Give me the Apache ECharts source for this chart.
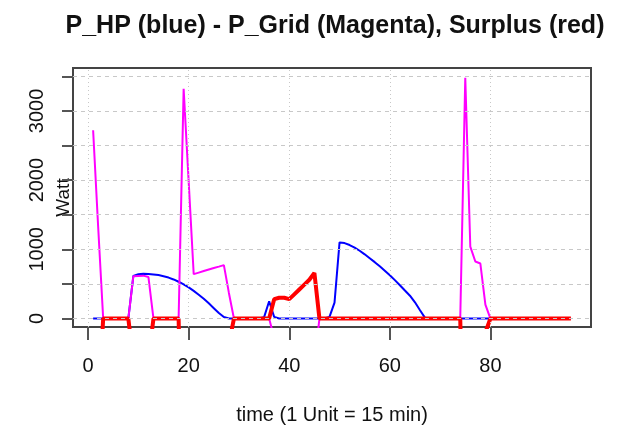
<!DOCTYPE html>
<html><head><meta charset="utf-8">
<script src="https://cdn.jsdelivr.net/npm/echarts@6/dist/echarts.min.js"></script>
<style>html,body{margin:0;padding:0;background:#fff}#c{width:626px;height:428px}</style>
</head><body><div id="c"></div>
<script>
// time index 1..96 (1 unit = 15 min)
const pHP = [
  0,0,0,0,0,0,0,0,
  615,640,648,645,638,628,612,592,565,532,494,450,400,345,285,220,150,80,22,0,
  0,0,0,0,0,0,
  20,250,25,0,
  0,0,0,0,0,0,0,0,0,
  25,230,1100,1090,1062,1025,980,928,872,815,755,692,625,555,482,405,330,235,120,10,0,
  0,0,0,0,0,0,0,0,0,0,0,0,0,0,0,0,0,0,0,0,0,0,0,0,0,0,0,0
];
const pGrid = [
  2720,1330,0,0,0,0,0,0,
  612,616,620,600,0,
  0,0,0,0,0,
  3320,1980,642,664,686,708,730,750,772,370,0,
  0,0,0,0,0,0,0,
  -280,-300,-300,-280,-350,-420,-490,-560,-660,0,
  0,0,0,0,0,0,0,0,0,0,0,0,0,0,0,0,0,0,0,0,0,0,0,0,0,0,0,0,
  3480,1040,825,795,200,0,
  0,0,0,0,0,0,0,0,0,0,0,0,0,0,0,0
];
const surplus = [
  -2720,-1330,0,0,0,0,0,0,
  -612,-616,-620,-600,0,
  0,0,0,0,0,
  -3320,-1980,-642,-664,-686,-708,-730,-750,-772,-370,0,
  0,0,0,0,0,0,0,
  280,300,300,280,350,420,490,560,660,0,
  0,0,0,0,0,0,0,0,0,0,0,0,0,0,0,0,0,0,0,0,0,0,0,0,0,0,0,0,
  -3480,-1040,-825,-795,-200,0,
  0,0,0,0,0,0,0,0,0,0,0,0,0,0,0,0
];
const xTicks = [0,20,40,60,80];
const yTicks = [0,500,1000,1500,2000,2500,3000,3500];
const yLabels = [0,1000,2000,3000];

const toXY = arr => arr.map((v, i) => [i + 1, v]);
const FONT = 'Liberation Sans';

const chart = echarts.init(document.getElementById('c'), null, {renderer: 'canvas'});
chart.setOption({
  animation: false,
  backgroundColor: '#fff',
  title: {
    text: 'P_HP (blue) - P_Grid (Magenta), Surplus (red)',
    left: 335, top: 14, padding: 0, textAlign: 'center',
    textStyle: {fontFamily: FONT, fontSize: 25, fontWeight: 'bold', color: '#111'}
  },
  grid: {left: 73, top: 68, width: 518, height: 259, show: true,
         outerBoundsMode: 'none', containLabel: false,
         borderColor: '#444', borderWidth: 2, backgroundColor: 'transparent'},
  xAxis: {
    type: 'value', min: -3, max: 100,
    name: 'time (1 Unit = 15 min)', nameLocation: 'middle', nameGap: 78,
    nameMoveOverlap: false,
    nameTextStyle: {fontFamily: FONT, fontSize: 20, color: '#111'},
    axisLine: {show: true, onZero: false, lineStyle: {color: '#444', width: 2}},
    axisTick: {show: true, length: 13, customValues: xTicks, lineStyle: {color: '#555', width: 2}},
    axisLabel: {customValues: xTicks, margin: 29, fontFamily: FONT, fontSize: 20, color: '#111',
                formatter: v => String(v)},
    splitLine: {show: false}
  },
  yAxis: {
    type: 'value', min: -122, max: 3620,
    name: 'Watt', nameLocation: 'middle', nameGap: 0, nameRotate: 90,
    nameMoveOverlap: false,
    nameTextStyle: {fontFamily: FONT, fontSize: 19, color: '#111'},
    axisLine: {show: true, onZero: false, lineStyle: {color: '#444', width: 2}},
    axisTick: {show: true, length: 11, customValues: yTicks, lineStyle: {color: '#555', width: 2}},
    axisLabel: {customValues: yLabels, rotate: 90, margin: 26, fontFamily: FONT, fontSize: 20, color: '#111',
                formatter: v => String(v)},
    splitLine: {show: false}
  },
  series: [
    {type: 'line', name: 'P_HP', data: toXY(pHP), showSymbol: false, z: 2,
     lineStyle: {color: '#0000ff', width: 2}, itemStyle: {color: '#0000ff'}},
    {type: 'line', name: 'P_Grid', data: toXY(pGrid), showSymbol: false, z: 3,
     lineStyle: {color: '#ff00ff', width: 2}, itemStyle: {color: '#ff00ff'}},
    {type: 'line', name: 'Surplus', data: toXY(surplus), showSymbol: false, z: 4,
     lineStyle: {color: '#ff0000', width: 4}, itemStyle: {color: '#ff0000'}},
    {type: 'line', name: 'grid', data: [], z: 5, silent: true,
     markLine: {
       silent: true, symbol: ['none', 'none'], label: {show: false},
       animation: false,
       data: [
         ...yTicks.map(v => ({yAxis: v, lineStyle: {color: '#c8c8c8', width: 1, type: [4, 4]}})),
         ...xTicks.map(v => ({xAxis: v, lineStyle: {color: '#c8c8c8', width: 1, type: [1, 3]}}))
       ]
     }}
  ]
});
</script>
</body></html>
